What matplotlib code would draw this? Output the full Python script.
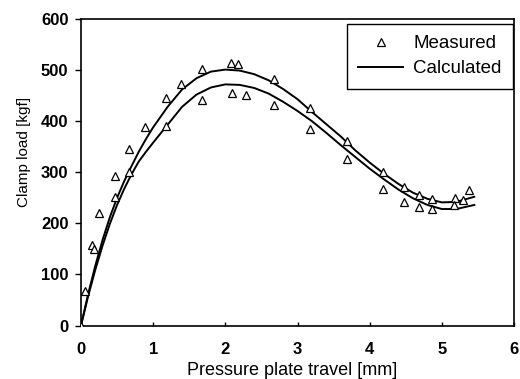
"""Clamp load versus pressure plate travel: measured points and calculated curves."""

import matplotlib.pyplot as plt

plt.rcParams["font.family"] = ["Liberation Sans", "DejaVu Sans"]

# Measured points (two test runs)
measured_x = [0.0, 0.05, 0.15, 0.18, 0.25, 0.47, 0.47, 0.67, 0.67, 0.88, 1.18, 1.18,
              1.38, 1.68, 1.68, 2.08, 2.18, 2.09, 2.29, 2.68, 2.68, 3.18, 3.17,
              3.68, 3.68, 4.18, 4.18, 4.48, 4.48, 4.69, 4.68, 4.87, 4.87,
              5.18, 5.29, 5.17, 5.38]
measured_y = [0, 68, 157, 150, 221, 251, 292, 346, 300, 388, 391, 445,
              472, 502, 442, 514, 512, 455, 452, 482, 432, 426, 385,
              362, 325, 300, 268, 271, 241, 255, 232, 248, 228,
              250, 246, 236, 265]

# Calculated curves (upper and lower)
calc_x = [0.0, 0.1, 0.2, 0.3, 0.4, 0.5, 0.6, 0.7, 0.8, 0.9, 1.0, 1.2, 1.4,
          1.6, 1.8, 2.0, 2.2, 2.4, 2.6, 2.8, 3.0, 3.2, 3.4, 3.6, 3.8, 4.0,
          4.2, 4.4, 4.6, 4.8, 5.0, 5.2, 5.45]
calc_upper = [0, 62, 118, 168, 212, 250, 283, 312, 340, 365, 388, 428, 462,
              484, 497, 501, 499, 492, 480, 463, 443, 418, 394, 370, 343, 319,
              297, 277, 260, 248, 241, 242, 252]
calc_lower = [0, 58, 110, 157, 199, 236, 268, 296, 321, 340, 358, 393, 428,
              452, 466, 472, 471, 465, 454, 438, 420, 400, 377, 353, 330, 307,
              286, 266, 249, 236, 228, 228, 236]

x_ticks = [0, 1, 2, 3, 4, 5, 6]
y_ticks = [0, 100, 200, 300, 400, 500, 600]

fig = plt.figure(figsize=(5.2, 3.79), dpi=100)
ax = fig.add_axes([81 / 520, 53.5 / 379, 433 / 520, 306.5 / 379])

ax.plot(measured_x, measured_y, linestyle="none", marker="^", markersize=6,
        markerfacecolor="white", markeredgecolor="black", markeredgewidth=0.9,
        label="Measured", zorder=3)
ax.plot(calc_x, calc_upper, color="black", linewidth=1.4, label="Calculated")
ax.plot(calc_x, calc_lower, color="black", linewidth=1.4)

ax.set_xlim(0, 6)
ax.set_ylim(0, 600)
ax.set_xticks(x_ticks)
ax.set_yticks(y_ticks)
ax.tick_params(axis="x", direction="in", length=3, width=1, labelsize=12, pad=12)
ax.tick_params(axis="y", direction="out", length=4, width=1, labelsize=12, pad=5)
for label in ax.get_xticklabels() + ax.get_yticklabels():
    label.set_fontweight("bold")
for spine in ax.spines.values():
    spine.set_linewidth(1.2)

ax.set_xlabel("Pressure plate travel [mm]", fontsize=13)
ax.set_ylabel("Clamp load [kgf]", fontsize=11)
ax.xaxis.set_label_coords(0.487, -0.118)
ax.yaxis.set_label_coords(-0.116, 0.566)

leg = ax.legend(loc="upper right", bbox_to_anchor=(513 / 520, 1 - 24 / 379),
                bbox_transform=fig.transFigure, borderaxespad=0, fontsize=13.5,
                fancybox=False, framealpha=1, edgecolor="black",
                handlelength=2.4, borderpad=0.6, labelspacing=0.42,
                handletextpad=0.55)
leg.get_frame().set_linewidth(1.0)

fig.savefig("out.png", dpi=100)
